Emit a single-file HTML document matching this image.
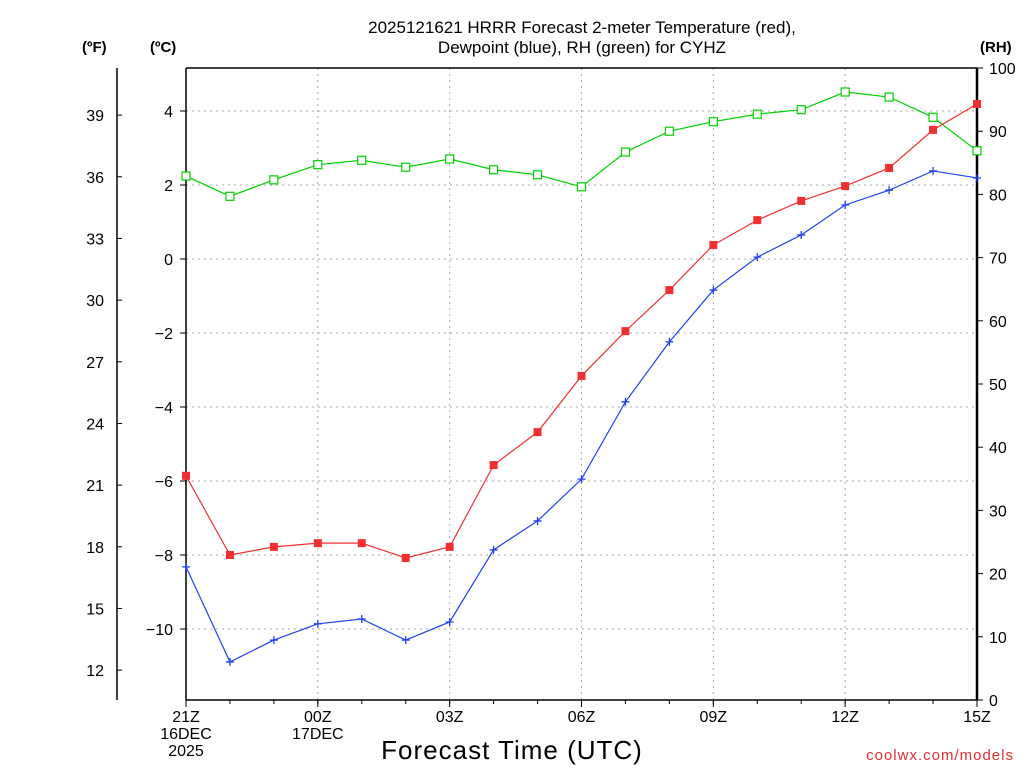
<!DOCTYPE html>
<html><head><meta charset="utf-8"><style>
body{margin:0;background:#fff;}
svg text{font-family:"Liberation Sans",sans-serif;fill:#000;}
</style></head><body>
<svg id="chart" width="1024" height="768" xmlns="http://www.w3.org/2000/svg">
<rect width="1024" height="768" fill="#fff"/>
<text x="582" y="33" font-size="17" text-anchor="middle">2025121621 HRRR Forecast 2-meter Temperature (red),</text>
<text x="582" y="53" font-size="17" text-anchor="middle">Dewpoint (blue), RH (green) for CYHZ</text>
<text x="82" y="52" font-size="15" font-weight="bold">(ºF)</text>
<text x="150" y="52" font-size="15" font-weight="bold">(ºC)</text>
<text x="980" y="52" font-size="15" font-weight="bold">(RH)</text>
<text x="512" y="759" font-size="26" text-anchor="middle" letter-spacing="1">Forecast Time (UTC)</text>
<text x="1014" y="760" font-size="15" fill="#e03030" style="fill:#e03030" text-anchor="end" letter-spacing="1">coolwx.com/models</text>
<g id="grid"></g>
<g id="axes"></g>
<g id="series"></g>
</svg>
<script>
const hours=[0,1,2,3,4,5,6,7,8,9,10,11,12,13,14,15,16,17,18];
const tempC=[-5.86,-8.0,-7.78,-7.68,-7.68,-8.08,-7.78,-5.57,-4.68,-3.16,-1.95,-0.84,0.38,1.05,1.57,1.97,2.46,3.49,4.19];
const dewC=[-8.32,-10.89,-10.3,-9.86,-9.73,-10.3,-9.81,-7.86,-7.08,-5.95,-3.86,-2.24,-0.84,0.05,0.65,1.46,1.86,2.38,2.19];
const rh=[82.9,79.7,82.3,84.7,85.4,84.3,85.6,83.9,83.1,81.2,86.7,90.0,91.5,92.7,93.4,96.2,95.4,92.2,86.9];
const cTicks=[4,2,0,-2,-4,-6,-8,-10];
const fTicks=[39,36,33,30,27,24,21,18,15,12];
const rhTicks=[0,10,20,30,40,50,60,70,80,90,100];
const xTicks=[[0,"21Z","16DEC","2025"],[3,"00Z","17DEC",""],[6,"03Z","",""],[9,"06Z","",""],[12,"09Z","",""],[15,"12Z","",""],[18,"15Z","",""]];
const L=186,R=977,T=68,B=700;
const xS=h=>L+(R-L)*h/18;
const yC=c=>259-37*c;
const yF=f=>yC((f-32)/1.8);
const yR=r=>B-(B-T)*r/100;
const NS="http://www.w3.org/2000/svg";
function mk(p,tag,at,txt){const e=document.createElementNS(NS,tag);for(const k in at)e.setAttribute(k,at[k]);if(txt!==undefined)e.textContent=txt;p.appendChild(e);return e;}
const g=document.getElementById('grid'),a=document.getElementById('axes'),s=document.getElementById('series');
cTicks.forEach(c=>{const y=yC(c);
 const l=mk(g,'line',{x1:L,x2:R,y1:y,y2:y,stroke:'#aaa','stroke-dasharray':'2,4'});
 
 const t=mk(a,'text',{x:173,y:y+6,'font-size':16,'text-anchor':'end'},c<0?'\u2212'+(-c):c);
 
 mk(a,'line',{x1:L-6,x2:L,y1:y,y2:y,stroke:'#000'});
});
xTicks.forEach(([h,l1,l2,l3])=>{const x=xS(h);
 if(h>0&&h<18){const l=mk(g,'line',{x1:x,x2:x,y1:T,y2:B,stroke:'#aaa','stroke-dasharray':'2,4'});
 }
 mk(a,'line',{x1:x,x2:x,y1:B,y2:B+7,stroke:'#000'});
 [l1,l2,l3].forEach((tx,i)=>{if(!tx)return;const t=mk(a,'text',{x:x,y:B+22+i*17,'font-size':16,'text-anchor':'middle'},tx);
 });
});
for(let h=0;h<=18;h++)mk(a,'line',{x1:xS(h),x2:xS(h),y1:B,y2:B+4,stroke:'#000'});
fTicks.forEach(f=>{const y=yF(f);
 mk(a,'line',{x1:117,x2:122,y1:y,y2:y,stroke:'#000'});
 const t=mk(a,'text',{x:104,y:y+6,'font-size':16,'text-anchor':'end'},f);
 
});
rhTicks.forEach(r=>{const y=yR(r);
 mk(a,'line',{x1:R,x2:R+6,y1:y,y2:y,stroke:'#000'});
 const t=mk(a,'text',{x:989,y:y+6,'font-size':16},r);
 
});
mk(a,'line',{x1:117,x2:117,y1:T,y2:B,stroke:'#000','stroke-width':1.5});
mk(a,'line',{x1:L,x2:L,y1:T,y2:B,stroke:'#000','stroke-width':1.5});
mk(a,'line',{x1:L,x2:R,y1:T,y2:T,stroke:'#000','stroke-width':1.5});
mk(a,'line',{x1:L,x2:R,y1:B,y2:B,stroke:'#000','stroke-width':1.5});
mk(a,'line',{x1:R,x2:R,y1:T,y2:B,stroke:'#000','stroke-width':2.5});
function line(vals,yf,color,name){const p=mk(s,'polyline',{points:vals.map((v,i)=>xS(hours[i])+','+yf(v)).join(' '),fill:'none',stroke:color,'stroke-width':1.2});
 }
line(rh,yR,'#00d000','rh-line');
line(tempC,yC,'#f03030','temperature-line');
line(dewC,yC,'#2040f0','dewpoint-line');
rh.forEach((v,i)=>{const m=mk(s,'rect',{x:xS(hours[i])-4,y:yR(v)-4,width:8,height:8,fill:'#fff',stroke:'#00d000','stroke-width':1.2});
 });
tempC.forEach((v,i)=>{const m=mk(s,'rect',{x:xS(hours[i])-4,y:yC(v)-4,width:8,height:8,fill:'#f03030'});
 });
dewC.forEach((v,i)=>{const x=xS(hours[i]),y=yC(v);
 const m=mk(s,'path',{d:`M${x-4},${y}H${x+4}M${x},${y-4}V${y+4}`,stroke:'#2040f0','stroke-width':1.3});
 });
</script>
</body></html>
